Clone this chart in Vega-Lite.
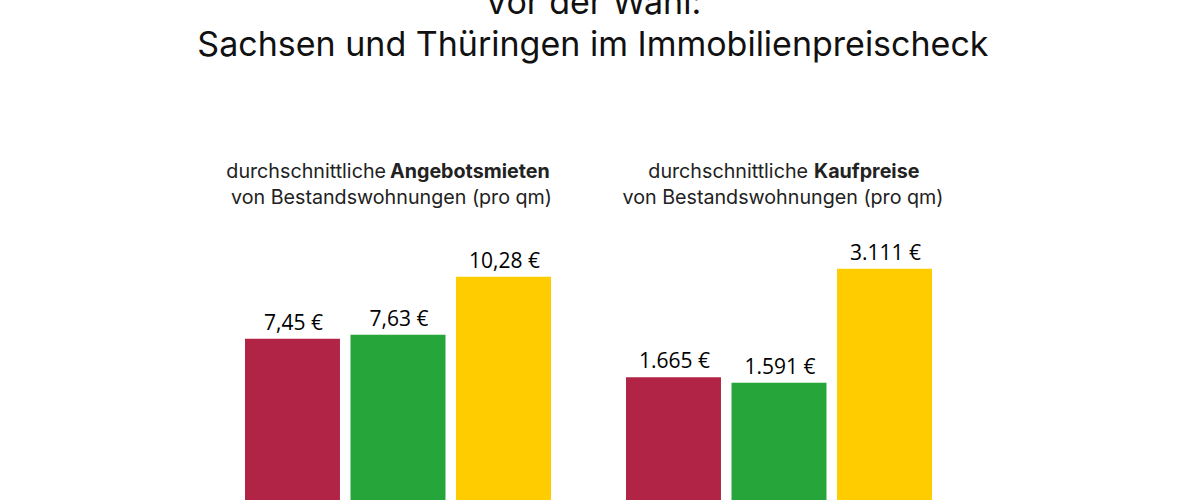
{
  "$schema": "https://vega.github.io/schema/vega-lite/v6.json",
  "padding": {"left": 197, "top": -13, "right": 0, "bottom": 0},
  "background": "white",
  "config": {
    "view": {"stroke": null},
    "concat": {"spacing": 69},
    "locale": {"number": {"decimal": ",", "thousands": ".", "grouping": [3], "currency": ["", " €"]}}
  },
  "title": {
    "text": ["Vor der Wahl:", "Sachsen und Thüringen im Immobilienpreischeck"],
    "font": "Inter", "fontSize": 34, "fontWeight": "normal", "lineHeight": 42,
    "color": "#111111", "anchor": "middle", "offset": 97, "dx": 8
  },
  "datasets": {
    "d": [
      {"panel": "Miete", "land": "Sachsen", "value": 7.45},
      {"panel": "Miete", "land": "Thüringen", "value": 7.63},
      {"panel": "Miete", "land": "Deutschland", "value": 10.28},
      {"panel": "Kauf", "land": "Sachsen", "value": 1665},
      {"panel": "Kauf", "land": "Thüringen", "value": 1591},
      {"panel": "Kauf", "land": "Deutschland", "value": 3111}
    ]
  },
  "hconcat": [
    {
      "width": 306, "height": 342,
      "layer": [
        {
          "data": {"name": "d"},
          "transform": [{"filter": "datum.panel == 'Miete'"}],
          "mark": {"type": "bar"},
          "encoding": {
            "x": {"field": "land", "type": "nominal", "sort": null, "axis": null, "scale": {"domain": ["Sachsen", "Thüringen", "Deutschland"], "paddingInner": 0.1, "paddingOuter": 0}},
            "y": {"field": "value", "type": "quantitative", "axis": null, "scale": {"domain": [0, 15.6], "nice": false}},
            "color": {"field": "land", "type": "nominal", "legend": null, "scale": {"domain": ["Sachsen", "Thüringen", "Deutschland"], "range": ["#B12445", "#26A53A", "#FFCC00"]}}
          }
        },
        {
          "data": {"name": "d"},
          "transform": [{"filter": "datum.panel == 'Miete'"}],
          "mark": {"type": "text", "baseline": "bottom", "dy": -5, "dx": 1, "font": "Open Sans", "fontSize": 21, "color": "#000000"},
          "encoding": {
            "x": {"field": "land", "type": "nominal", "sort": null},
            "y": {"field": "value", "type": "quantitative"},
            "text": {"field": "value", "type": "quantitative", "format": "$,.2f"}
          }
        },
        {
          "data": {"values": [{"t": "durchschnittliche"}]},
          "mark": {"type": "text", "align": "right", "baseline": "middle", "dx": -12, "font": "Inter", "fontSize": 19.7, "color": "#222222"},
          "encoding": {"x": {"datum": "Thüringen", "type": "nominal"}, "y": {"datum": 15.05, "type": "quantitative"}, "text": {"field": "t"}}
        },
        {
          "data": {"values": [{"t": "Angebotsmieten"}]},
          "mark": {"type": "text", "align": "left", "baseline": "middle", "dx": -8, "font": "Inter", "fontSize": 19.7, "fontWeight": "bold", "color": "#222222"},
          "encoding": {"x": {"datum": "Thüringen", "type": "nominal"}, "y": {"datum": 15.05, "type": "quantitative"}, "text": {"field": "t"}}
        },
        {
          "data": {"values": [{"t": "von Bestandswohnungen (pro qm)"}]},
          "mark": {"type": "text", "align": "center", "baseline": "middle", "dx": -6.5, "font": "Inter", "fontSize": 19.7, "color": "#222222"},
          "encoding": {"x": {"datum": "Thüringen", "type": "nominal"}, "y": {"datum": 13.87, "type": "quantitative"}, "text": {"field": "t"}}
        }
      ]
    },
    {
      "width": 306, "height": 342,
      "layer": [
        {
          "data": {"name": "d"},
          "transform": [{"filter": "datum.panel == 'Kauf'"}],
          "mark": {"type": "bar"},
          "encoding": {
            "x": {"field": "land", "type": "nominal", "sort": null, "axis": null, "scale": {"domain": ["Sachsen", "Thüringen", "Deutschland"], "paddingInner": 0.1, "paddingOuter": 0}},
            "y": {"field": "value", "type": "quantitative", "axis": null, "scale": {"domain": [0, 4560], "nice": false}},
            "color": {"field": "land", "type": "nominal", "legend": null, "scale": {"domain": ["Sachsen", "Thüringen", "Deutschland"], "range": ["#B12445", "#26A53A", "#FFCC00"]}}
          }
        },
        {
          "data": {"name": "d"},
          "transform": [{"filter": "datum.panel == 'Kauf'"}],
          "mark": {"type": "text", "baseline": "bottom", "dy": -5, "dx": 1, "font": "Open Sans", "fontSize": 21, "color": "#000000"},
          "encoding": {
            "x": {"field": "land", "type": "nominal", "sort": null},
            "y": {"field": "value", "type": "quantitative"},
            "text": {"field": "value", "type": "quantitative", "format": "$,.0f"}
          }
        },
        {
          "data": {"values": [{"t": "durchschnittliche"}]},
          "mark": {"type": "text", "align": "right", "baseline": "middle", "dx": 29, "font": "Inter", "fontSize": 19.7, "color": "#222222"},
          "encoding": {"x": {"datum": "Thüringen", "type": "nominal"}, "y": {"datum": 4400, "type": "quantitative"}, "text": {"field": "t"}}
        },
        {
          "data": {"values": [{"t": "Kaufpreise"}]},
          "mark": {"type": "text", "align": "left", "baseline": "middle", "dx": 35, "font": "Inter", "fontSize": 19.7, "fontWeight": "bold", "color": "#222222"},
          "encoding": {"x": {"datum": "Thüringen", "type": "nominal"}, "y": {"datum": 4400, "type": "quantitative"}, "text": {"field": "t"}}
        },
        {
          "data": {"values": [{"t": "von Bestandswohnungen (pro qm)"}]},
          "mark": {"type": "text", "align": "center", "baseline": "middle", "dx": 4, "font": "Inter", "fontSize": 19.7, "color": "#222222"},
          "encoding": {"x": {"datum": "Thüringen", "type": "nominal"}, "y": {"datum": 4053, "type": "quantitative"}, "text": {"field": "t"}}
        }
      ]
    }
  ]
}
